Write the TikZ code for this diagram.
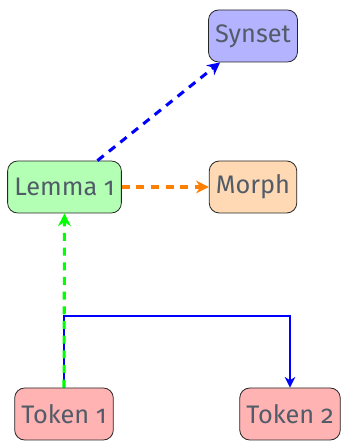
\documentclass[tikz,border=0pt]{standalone}
\usepackage{fontspec}
\setmainfont[Numbers=OldStyle]{Fira Sans}
\usetikzlibrary{arrows.meta}
\definecolor{labelgray}{RGB}{82,92,104}
\definecolor{synsetfill}{RGB}{179,179,255}
\definecolor{lemmafill}{RGB}{179,255,179}
\definecolor{morphfill}{RGB}{255,217,179}
\definecolor{tokenfill}{RGB}{255,179,179}

\begin{document}
\begin{tikzpicture}[x=0.75pt,y=0.75pt,
    unit/.style={draw=black!85,line width=0.6pt,rounded corners=7.5pt,
      minimum height=39pt,inner xsep=5pt,text=labelgray,
      font=\fontsize{19}{21}\selectfont},
    link/.style={line width=2.3pt,dash pattern=on 6pt off 5pt,
      -{Stealth[length=9.5pt,width=9.5pt,inset=3pt]}},
    seq/.style={line width=1.5pt,-{Stealth[length=8pt,width=8pt,inset=2.5pt]}}]
  \useasboundingbox (0,0) rectangle (340,441);

  % word-level units
  \node[unit,fill=synsetfill] (synset) at (253,405) {Synset};
  \node[unit,fill=lemmafill] (lemma) at (64.5,254) {Lemma 1};
  \node[unit,fill=morphfill] (morph) at (253,254) {Morph};
  \node[unit,fill=tokenfill] (tok1) at (64,27) {Token 1};
  \node[unit,fill=tokenfill] (tok2) at (290,27) {Token 2};

  % token order first, so the green link sits on top of it
  \draw[seq,blue] (tok1.north) -- ++(0,72) -| (tok2.north);

  \draw[link,green] (tok1.north) -- (lemma.south);
  \draw[link,orange] (lemma) -- (morph);
  \draw[link,blue] (lemma) -- (synset);
\end{tikzpicture}
\end{document}
